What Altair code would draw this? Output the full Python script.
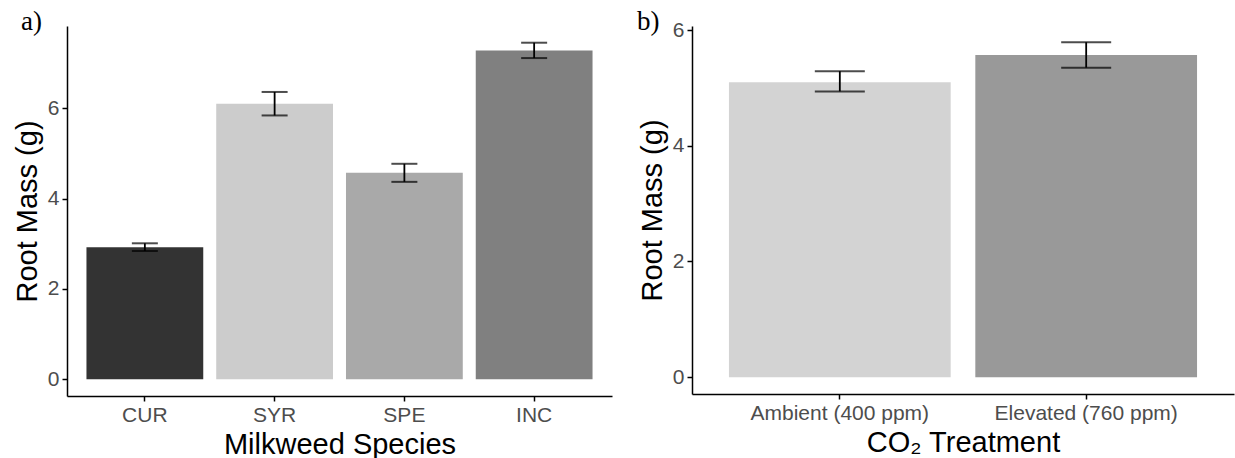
import altair as alt
import pandas as pd

# Panel a) — root mass by milkweed species
species = ["CUR", "SYR", "SPE", "INC"]
species_mass = [2.92, 6.10, 4.57, 7.28]
species_low = [2.84, 5.84, 4.37, 7.11]
species_high = [3.01, 6.36, 4.77, 7.45]
species_colors = ["#333333", "#CCCCCC", "#A9A9A9", "#808080"]

# Panel b) — root mass by CO2 treatment
treatments = ["Ambient (400 ppm)", "Elevated (760 ppm)"]
treat_mass = [5.10, 5.57]
treat_low = [4.94, 5.35]
treat_high = [5.29, 5.79]
treat_colors = ["#D3D3D3", "#999999"]

y_ticks = [0, 2, 4, 6]

FONT = "Liberation Sans"


def panel(cats, mass, low, high, colors, xtitle, ydomain, label, label_dx, w, h, cap):
    df = pd.DataFrame({"cat": cats, "mass": mass, "low": low, "high": high})
    xenc = alt.X(
        "cat:N",
        sort=cats,
        title=xtitle,
        scale=alt.Scale(paddingInner=0.1, paddingOuter=0.15),
        axis=alt.Axis(labelAngle=0, titlePadding=5),
    )
    yscale = alt.Scale(domain=ydomain, nice=False, zero=False)
    bars = alt.Chart(df).mark_bar().encode(
        x=xenc,
        y=alt.Y("mass:Q", scale=yscale, title="Root Mass (g)",
                axis=alt.Axis(values=y_ticks, format="d", titlePadding=5)),
        y2=alt.datum(0),
        color=alt.Color("cat:N", scale=alt.Scale(domain=cats, range=colors), legend=None),
    )
    rules = alt.Chart(df).mark_rule(color="black", strokeWidth=1.8).encode(
        x=xenc, y=alt.Y("low:Q", scale=yscale), y2="high:Q"
    )
    cap_low = alt.Chart(df).mark_tick(color="black", thickness=2, size=cap).encode(
        x=xenc, y=alt.Y("low:Q", scale=yscale)
    )
    cap_high = alt.Chart(df).mark_tick(color="black", thickness=2, size=cap).encode(
        x=xenc, y=alt.Y("high:Q", scale=yscale)
    )
    tag = alt.Chart(pd.DataFrame({"label": [label]})).mark_text(
        font="Liberation Serif", fontSize=27, align="left", baseline="alphabetic",
        color="black",
    ).encode(text="label:N", x=alt.value(label_dx), y=alt.value(4))
    return alt.layer(bars, rules, cap_low, cap_high, tag).properties(width=w, height=h)


left = panel(species, species_mass, species_low, species_high, species_colors,
             "Milkweed Species", [-0.37, 7.82], "a)", -46, 545, 370, 26)
right = panel(treatments, treat_mass, treat_low, treat_high, treat_colors,
              "CO₂ Treatment", [-0.29, 6.07], "b)", -55, 542, 368, 50)

chart = alt.hconcat(left, right, spacing=23).resolve_scale(
    color="independent", y="independent", x="independent"
).properties(
    padding={"left": 12, "top": 7, "right": 0, "bottom": 0}
).configure_view(stroke="transparent").configure_axis(
    grid=False,
    domainColor="black",
    domainWidth=1.5,
    tickColor="black",
    tickWidth=1.5,
    tickSize=5,
    labelColor="#4D4D4D",
    labelFont=FONT,
    labelFontSize=21,
    labelPadding=3,
    labelLimit=0,
    titleFont=FONT,
    titleFontSize=29,
    titleFontWeight="normal",
    titleColor="black",
)

chart.save("out.html", embed_options={"renderer": "svg", "actions": False})
